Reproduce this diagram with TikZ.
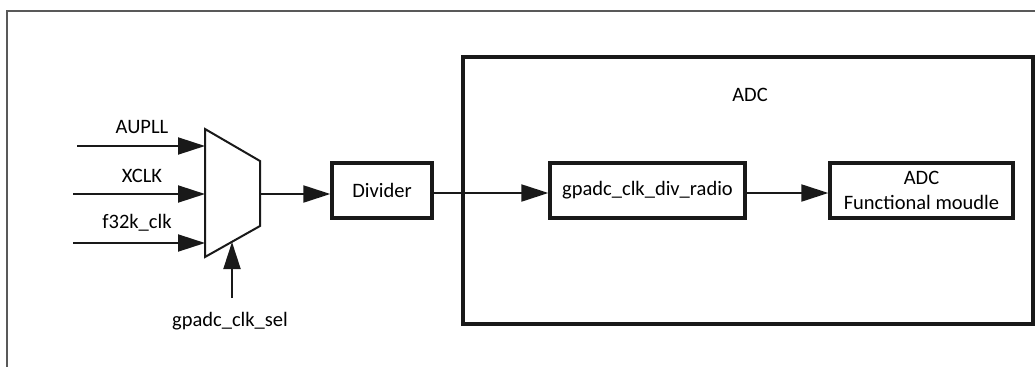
\documentclass[tikz,border=0pt]{standalone}
\usepackage{fontspec}
\setmainfont{Carlito}
\usetikzlibrary{arrows.meta}
\begin{document}
\begin{tikzpicture}[x=1pt,y=-1pt,
  box/.style={draw=black!90,line width=3.3pt,minimum height=55pt,inner sep=0pt,font=\fontsize{20.5}{25}\selectfont,align=center},
  lbl/.style={font=\fontsize{20.5}{25}\selectfont,inner sep=0pt},
  conn/.style={draw=black!90,line width=2pt,-{Triangle[length=27pt,width=17pt]}},
  frame/.style={draw=black!65,line width=1.5pt}]
\useasboundingbox (0,0) rectangle (1035,367);
% outer frame
\draw[frame] (1035,11) -- (7,11) -- (7,367);
% ADC enclosure
\node[draw=black!90,line width=3.3pt,minimum width=570pt,minimum height=267pt,inner sep=0pt] (adc) at (748,190.5) {};
\node[lbl] (adclbl) at (750,95) {ADC};
% mux
\draw[black!90,line width=2pt] (205,129) -- (260,161) -- (260,226) -- (205,257) -- cycle;
\coordinate (mi1) at (205,146);
\coordinate (mi2) at (205,194);
\coordinate (mi3) at (205,243);
\coordinate (mo) at (260,194);
\coordinate (msel) at (232,242);
\coordinate (s1) at (77,146);
\coordinate (s2) at (73,194);
\coordinate (s3) at (73,243);
\coordinate (s4) at (232,298);
\node[lbl] (l1) at (142,127) {AUPLL};
\node[lbl] (l2) at (142,176) {XCLK};
\node[lbl] (l3) at (137,223) {f32k\_clk};
\node[lbl] (l4) at (230,321) {gpadc\_clk\_sel};
\draw[conn] (s1) -- (mi1);
\draw[conn] (s2) -- (mi2);
\draw[conn] (s3) -- (mi3);
\draw[conn] (s4) -- (msel);
% boxes
\node[box,minimum width=100pt] (div) at (382,190.5) {Divider};
\node[box,minimum width=195pt] (gp) at (647.5,190.5) {gpadc\_clk\_div\_radio};
\node[box,minimum width=183pt] (fm) at (921.5,190.5) {ADC\\Functional moudle};
\draw[conn] (mo) -- (div.west |- mo);
\draw[conn] (div.east |- 0,193) -- (gp.west |- 0,193);
\draw[conn] (gp.east |- 0,193) -- (fm.west |- 0,193);
\end{tikzpicture}
\end{document}
